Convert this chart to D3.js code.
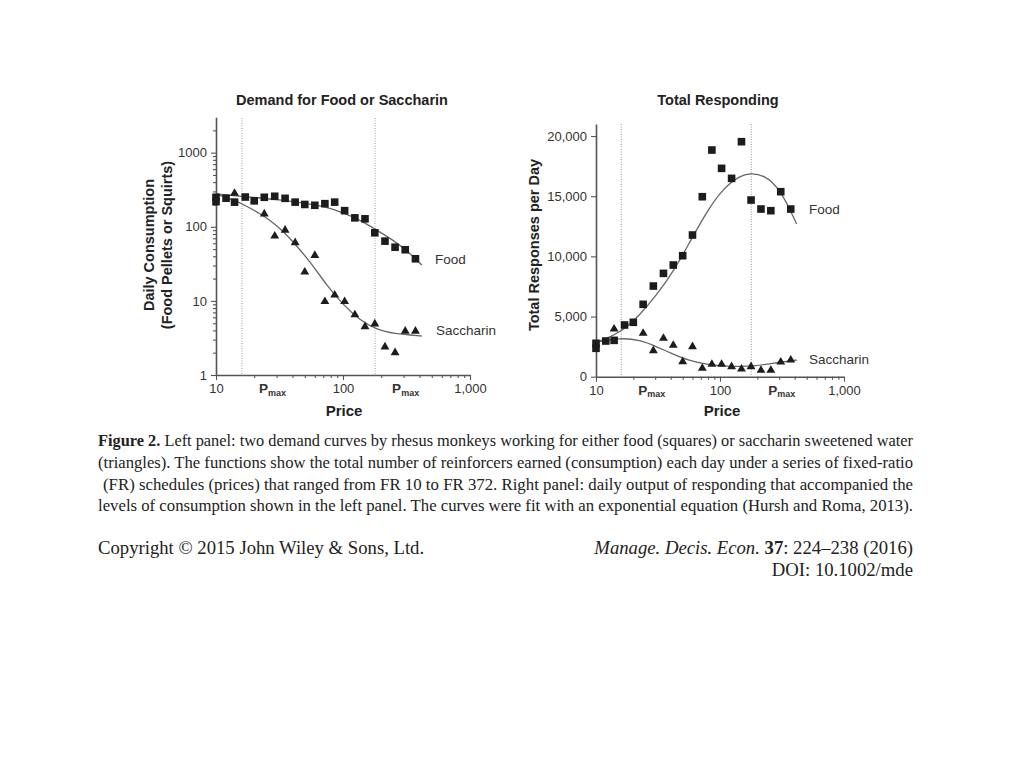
<!DOCTYPE html>
<html>
<head>
<meta charset="utf-8">
<script src="https://cdn.jsdelivr.net/npm/d3@7"></script>
<style>
  body { margin: 0; background: #fff; }
  svg { display: block; }
</style>
</head>
<body>
<svg id="chart" width="1024" height="768"></svg>
<script>
// ---------- DATA ----------
// Food (squares): price (FR) and consumption / total responses
const foodPrices = [10, 10, 12, 14, 17, 20, 24, 29, 35, 42, 50, 60, 72, 86, 103, 124, 149, 178, 214, 257, 309, 372];
const foodConsumption = [250, 218, 243, 215, 252, 224, 250, 258, 242, 215, 200, 195, 205, 215, 165, 132, 128, 83, 64, 53, 49, 37];
const foodResponses = [2360, 2775, 2966, 3020, 4296, 4520, 6015, 7534, 8587, 9280, 10055, 11773, 14958, 18836, 17313, 16482, 19529, 14681, 13933, 13795, 15374, 13933];

// Saccharin (triangles)
const sacPrices = [14, 24, 29, 35, 42, 50, 60, 72, 86, 103, 124, 149, 178, 214, 257, 309, 372];
const sacConsumption = [283, 149, 75, 90, 61, 24.5, 41, 9.8, 12, 9.8, 6.5, 4.5, 4.9, 2.4, 2.0, 3.9, 3.9];
const sacResponses = [3963, 3606, 2160, 3190, 2609, 1246, 2493, 698, 1030, 1030, 831, 640, 831, 532, 532, 1222, 1388];

// Fitted curves
const foodCurvePrices = [10, 16.4, 30, 55, 72, 100, 136, 184, 249, 337, 417];
const foodCurveConsumption = [277, 255, 235, 203, 187, 155, 124, 90, 66, 44, 30.5];
const sacCurvePrices = [10, 14, 16.4, 22.2, 30, 40.6, 55, 74, 100.5, 136, 184, 249, 417];
const sacCurveConsumption = [277, 228, 200, 152, 106, 63, 33.8, 16.5, 8.8, 5.5, 4.1, 3.6, 3.36];

const foodRespCurvePrices = [10, 15.6, 22.6, 30.8, 42, 57.3, 78, 106, 145, 174.5, 224, 305, 415];
const foodRespCurveValues = [2850, 3606, 5127, 6789, 8725, 11218, 13710, 15654, 16700, 16900, 16800, 15654, 12688];
const sacRespCurvePrices = [10, 15.6, 22.6, 30.8, 42, 57.3, 78, 106, 145, 194, 265, 415];
const sacRespCurveValues = [2850, 3240, 3049, 2493, 1861, 1305, 1030, 889, 831, 889, 1113, 1388];

const pmaxPrices = [16, 179];

// Tick labels
const xMajorTicks = [10, 100, 1000];
const xTickLabels = ["10", "100", "1,000"];
const xMinorTicks = [20, 30, 40, 50, 60, 70, 80, 90, 200, 300, 400, 500, 600, 700, 800, 900];
const leftYMajorTicks = [1, 10, 100, 1000];
const leftYTickLabels = ["1", "10", "100", "1000"];
const leftYMinorTicks = [2,3,4,5,6,7,8,9,20,30,40,50,60,70,80,90,200,300,400,500,600,700,800,900,2000];
const rightYTicks = [0, 5000, 10000, 15000, 20000];
const rightYTickLabels = ["0", "5,000", "10,000", "15,000", "20,000"];

const captionLines = [
  "Left panel: two demand curves by rhesus monkeys working for either food (squares) or saccharin sweetened water",
  "(triangles). The functions show the total number of reinforcers earned (consumption) each day under a series of fixed-ratio",
  "(FR) schedules (prices) that ranged from FR 10 to FR 372. Right panel: daily output of responding that accompanied the",
  "levels of consumption shown in the left panel. The curves were fit with an exponential equation (Hursh and Roma, 2013)."
];

// ---------- DRAW ----------
const svg = d3.select("#chart");
const sans = "Arial, 'Liberation Sans', sans-serif";
const serif = "'Liberation Serif', 'Times New Roman', serif";
const axisColor = "#555";
const textColor = "#333";
const markColor = "#1c1c1c";
const curveColor = "#666";

function drawPanel(opts) {
  const g = svg.append("g");
  const x = d3.scaleLog().domain([10, 1000]).range([opts.x0, opts.x1]);
  const y = opts.y;

  // Pmax lines
  g.selectAll("line.pmax").data(pmaxPrices).join("line")
    .attr("x1", d => x(d)).attr("x2", d => x(d))
    .attr("y1", opts.yTop).attr("y2", opts.yBottom)
    .attr("stroke", "#b0b0b0").attr("stroke-width", 1.3).attr("stroke-dasharray", "1,1.5");

  // x axis: major + minor
  const xAxis = d3.axisBottom(x).tickValues(xMajorTicks)
    .tickFormat((d, i) => xTickLabels[i]).tickSize(5).tickSizeOuter(0);
  const gx = g.append("g").attr("transform", `translate(0,${opts.yBottom})`).call(xAxis);
  g.append("g").attr("transform", `translate(0,${opts.yBottom})`)
    .call(d3.axisBottom(x).tickValues(xMinorTicks).tickFormat("").tickSize(3).tickSizeOuter(0))
    .select(".domain").remove();

  // y axis
  const yAxis = d3.axisLeft(y).tickValues(opts.yTicks)
    .tickFormat((d, i) => opts.yLabels[i]).tickSize(5).tickSizeOuter(0);
  const gy = g.append("g").attr("transform", `translate(${opts.x0},0)`).call(yAxis);
  if (opts.yMinor) {
    g.append("g").attr("transform", `translate(${opts.x0},0)`)
      .call(d3.axisLeft(y).tickValues(opts.yMinor).tickFormat("").tickSize(3).tickSizeOuter(0))
      .select(".domain").remove();
  }
  g.selectAll(".domain").attr("stroke", axisColor).attr("stroke-width", 1.6);
  g.selectAll(".tick line").attr("stroke", axisColor).attr("stroke-width", 1.1);
  g.selectAll(".tick text").attr("fill", textColor).style("font-family", sans).style("font-size", "13px");
  gx.selectAll(".tick text").attr("dy", "0.8em");
  gy.selectAll(".tick text").attr("dx", "-1px");

  // curves
  const line = d3.line().x(d => x(d[0])).y(d => y(d[1])).curve(d3.curveBasis);
  opts.curves.forEach(c => {
    g.append("path").datum(d3.zip(c[0], c[1])).attr("d", line)
      .attr("fill", "none").attr("stroke", curveColor).attr("stroke-width", 1.3);
  });

  // triangles
  g.selectAll("path.tri").data(d3.zip(sacPrices, opts.sacValues)).join("path")
    .attr("d", d3.symbol(d3.symbolTriangle, 34))
    .attr("transform", d => `translate(${x(d[0])},${y(d[1])})`)
    .attr("fill", markColor);
  // squares
  g.selectAll("rect.sq").data(d3.zip(foodPrices, opts.foodValues)).join("rect")
    .attr("x", d => x(d[0]) - 3.8).attr("y", d => y(d[1]) - 3.8)
    .attr("width", 7.6).attr("height", 7.6).attr("fill", markColor);

  // Pmax labels
  pmaxPrices.forEach(p => {
    const t = g.append("text").attr("x", x(p) + 17).attr("y", opts.yBottom + 18)
      .attr("fill", textColor).style("font-family", sans).style("font-weight", "bold");
    t.append("tspan").text("P").style("font-size", "13.5px");
    t.append("tspan").text("max").style("font-size", "9px").attr("dy", "2.5");
  });

  // titles / labels
  g.append("text").attr("x", opts.titleX).attr("y", 105).attr("text-anchor", "middle")
    .attr("fill", "#222").style("font-family", sans).style("font-weight", "bold").style("font-size", "14.5px")
    .text(opts.title);
  g.append("text").attr("x", opts.priceX).attr("y", 416).attr("text-anchor", "middle")
    .attr("fill", "#222").style("font-family", sans).style("font-weight", "bold").style("font-size", "15px")
    .text("Price");
  opts.yLabelLines.forEach((l, i) => {
    g.append("text").attr("transform", `translate(${l.x},245) rotate(-90)`).attr("text-anchor", "middle")
      .attr("fill", "#222").style("font-family", sans).style("font-weight", "bold").style("font-size", "14.5px")
      .text(l.text);
  });
  opts.seriesLabels.forEach(s => {
    g.append("text").attr("x", s.x).attr("y", s.y).attr("fill", textColor)
      .style("font-family", sans).style("font-size", "13.5px").text(s.text);
  });
}

// Left panel
drawPanel({
  x0: 216, x1: 470, yTop: 118, yBottom: 375,
  y: d3.scaleLog().domain([1, 3000]).range([375, 117.3]),
  yTicks: leftYMajorTicks, yLabels: leftYTickLabels, yMinor: leftYMinorTicks,
  foodValues: foodConsumption, sacValues: sacConsumption,
  curves: [[foodCurvePrices, foodCurveConsumption], [sacCurvePrices, sacCurveConsumption]],
  title: "Demand for Food or Saccharin", titleX: 342, priceX: 344,
  yLabelLines: [{x: 153.5, text: "Daily Consumption"}, {x: 171.5, text: "(Food Pellets or Squirts)"}],
  seriesLabels: [{x: 435, y: 264, text: "Food"}, {x: 436, y: 335, text: "Saccharin"}]
});

// Right panel
drawPanel({
  x0: 596, x1: 844, yTop: 124, yBottom: 376.7,
  y: d3.scaleLinear().domain([0, 21000]).range([376.7, 124]),
  yTicks: rightYTicks, yLabels: rightYTickLabels, yMinor: null,
  foodValues: foodResponses, sacValues: sacResponses,
  curves: [[foodRespCurvePrices, foodRespCurveValues], [sacRespCurvePrices, sacRespCurveValues]],
  title: "Total Responding", titleX: 718, priceX: 722,
  yLabelLines: [{x: 538.5, text: "Total Responses per Day"}],
  seriesLabels: [{x: 809, y: 214, text: "Food"}, {x: 809, y: 364, text: "Saccharin"}]
});

// Caption
const cap = svg.append("g").style("font-family", serif).attr("fill", "#222");
const capY = [446, 468, 490, 511];
const capStyle = t => t.style("font-size", "17.5px").attr("lengthAdjust", "spacingAndGlyphs");
const t0 = cap.append("text").attr("x", 98).attr("y", capY[0]).attr("textLength", 815).call(capStyle);
t0.append("tspan").style("font-weight", "bold").text("Figure 2. ");
t0.append("tspan").text(captionLines[0]);
cap.append("text").attr("x", 98).attr("y", capY[1]).attr("textLength", 815).call(capStyle).text(captionLines[1]);
cap.append("text").attr("x", 103).attr("y", capY[2]).attr("textLength", 810).call(capStyle).text(captionLines[2]);
cap.append("text").attr("x", 98).attr("y", capY[3]).attr("textLength", 815).call(capStyle).text(captionLines[3]);

const foot = cap.append("g").style("font-size", "18.7px");
foot.append("text").attr("x", 98).attr("y", 554).text("Copyright \u00A9 2015 John Wiley & Sons, Ltd.");
const j = foot.append("text").attr("x", 913).attr("y", 554).attr("text-anchor", "end");
j.append("tspan").style("font-style", "italic").text("Manage. Decis. Econ. ");
j.append("tspan").style("font-weight", "bold").text("37");
j.append("tspan").text(": 224\u2013238 (2016)");
foot.append("text").attr("x", 913).attr("y", 576).attr("text-anchor", "end").text("DOI: 10.1002/mde");
</script>
</body>
</html>
